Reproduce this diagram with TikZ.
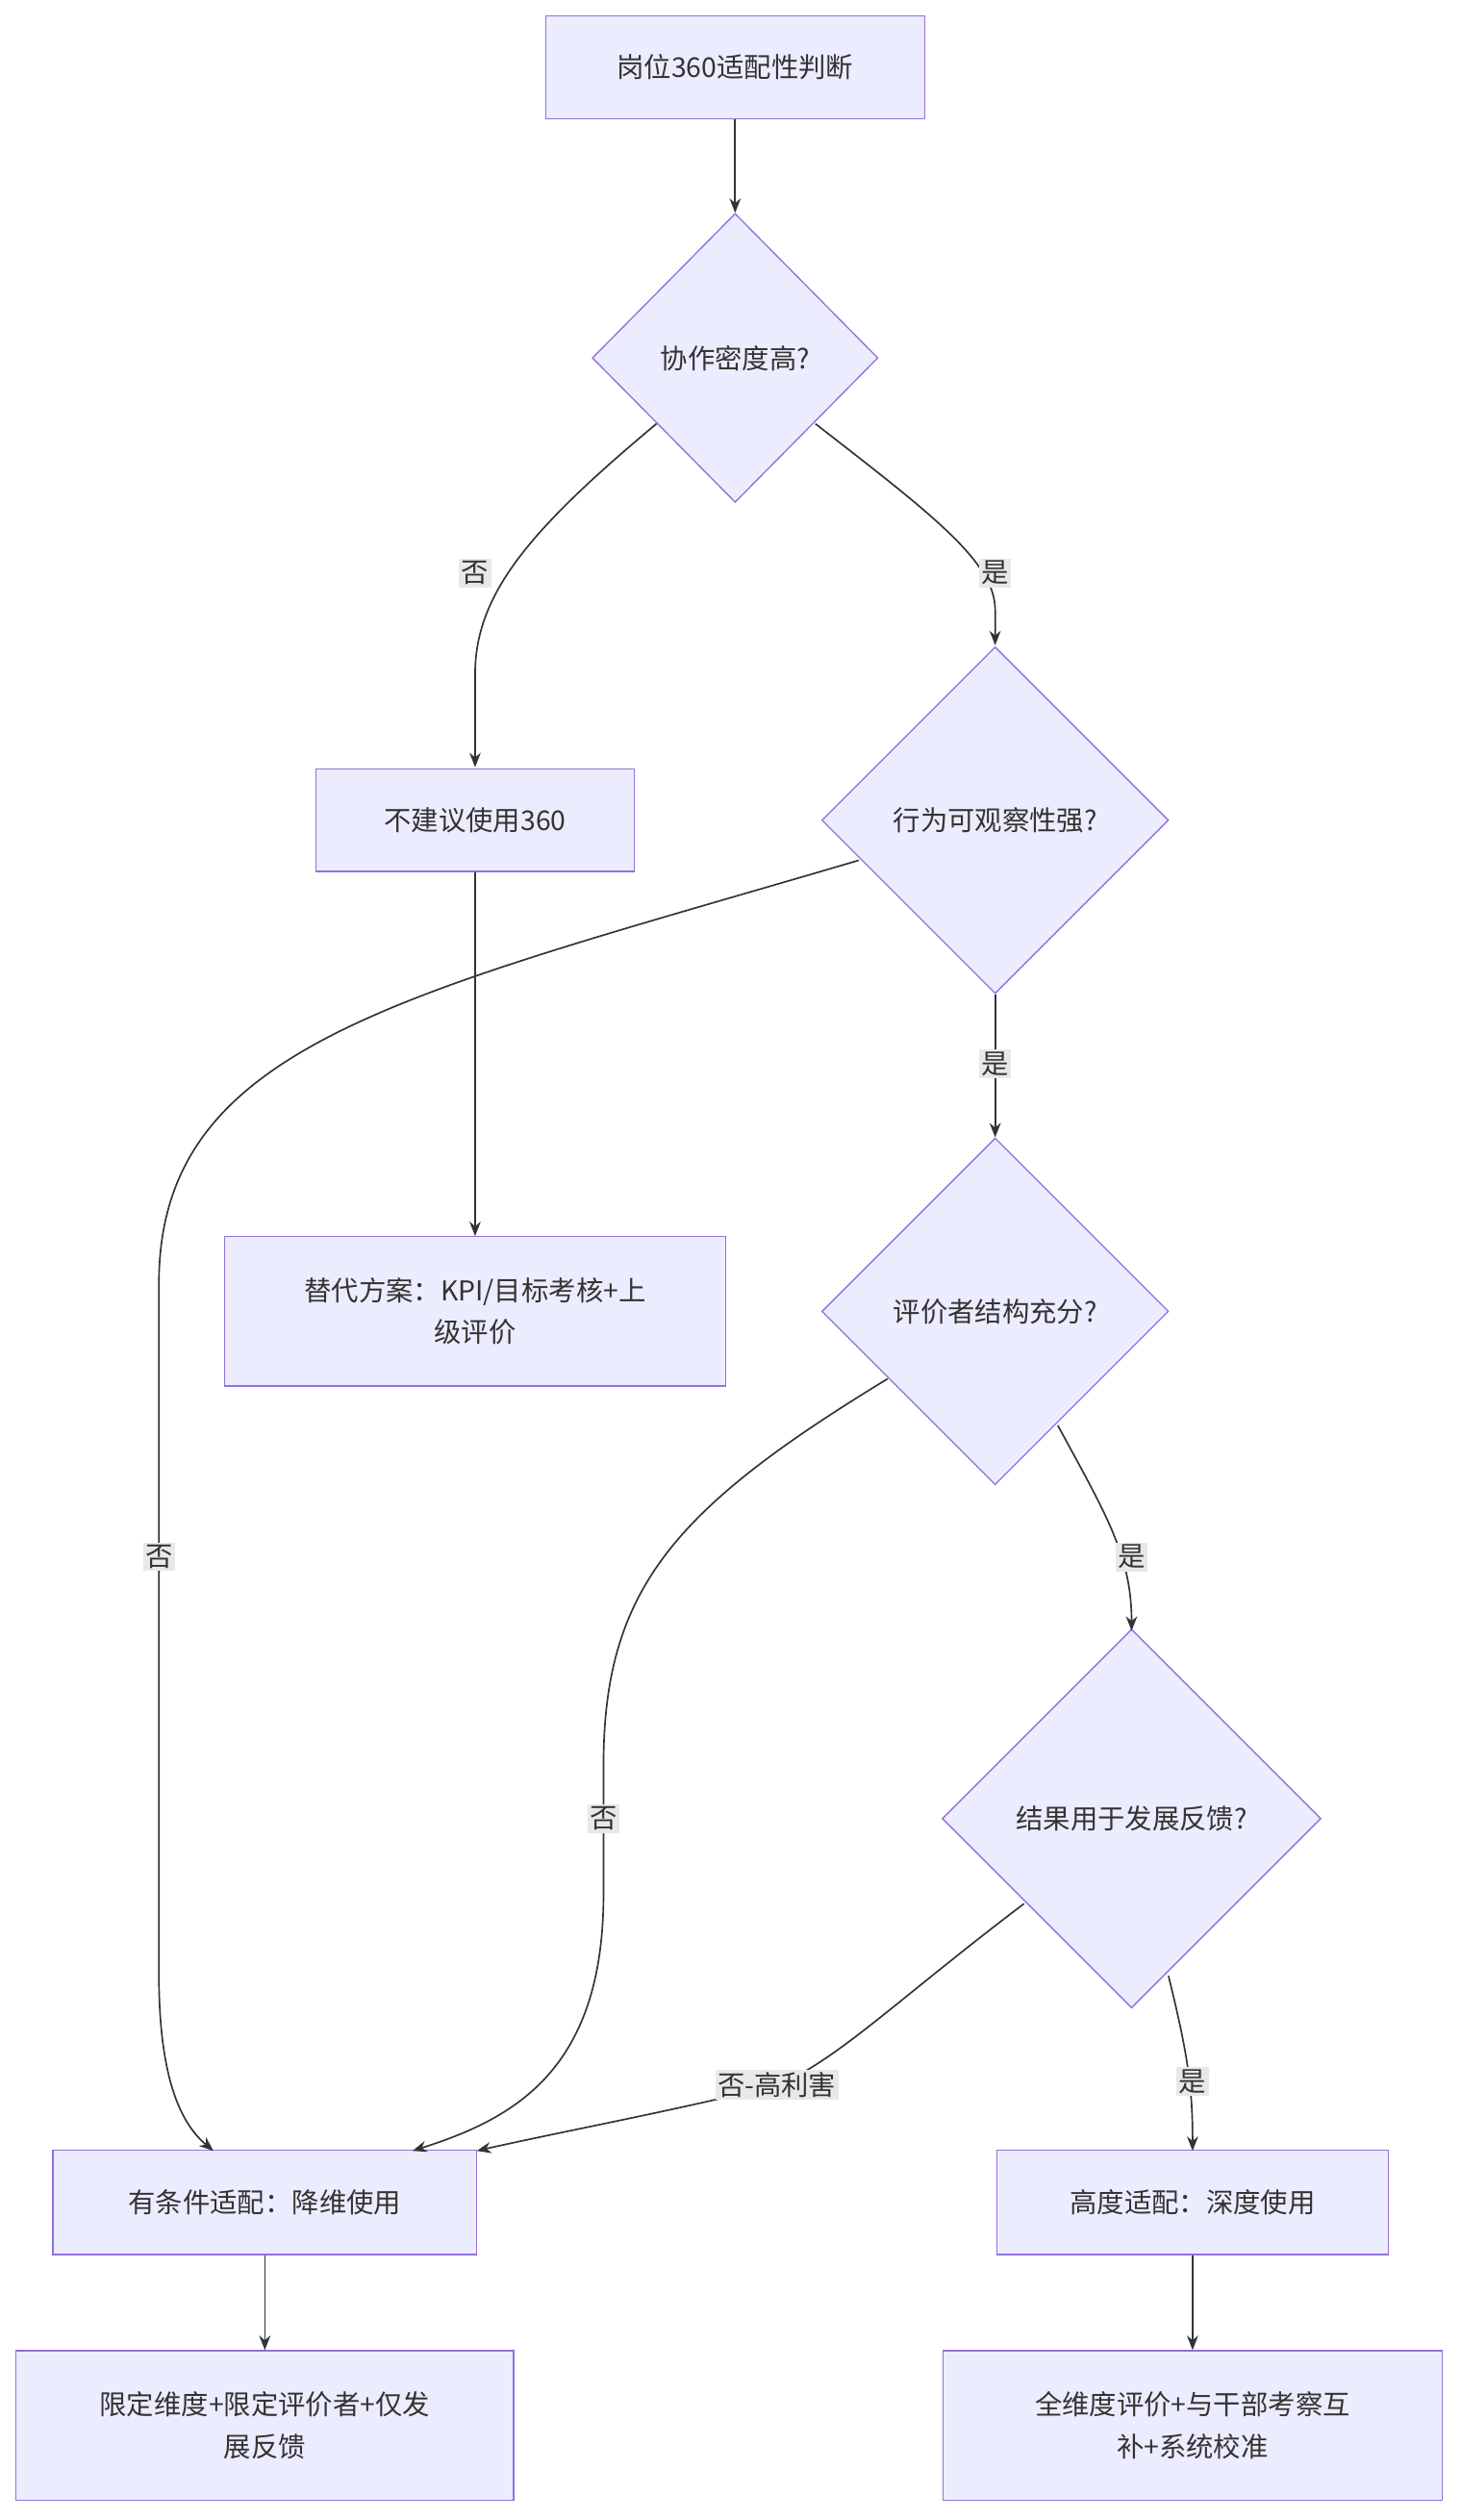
\documentclass[tikz,border=0pt]{standalone}
\usepackage{fontspec}
\setmainfont{Noto Sans CJK SC}
\usetikzlibrary{shapes.geometric,arrows.meta}
\definecolor{nfill}{HTML}{ECECFF}
\definecolor{nline}{HTML}{9370DB}
\definecolor{edge}{HTML}{333333}
\definecolor{lbl}{HTML}{E8E8E8}
\begin{document}
\begin{tikzpicture}[x=1pt,y=-1pt,
  box/.style={draw=nline,fill=nfill,line width=0.8pt,rectangle,inner sep=0,align=center,font=\fontsize{17}{26}\selectfont,text=edge},
  dia/.style={draw=nline,fill=nfill,line width=0.8pt,diamond,inner sep=0,font=\fontsize{17}{26}\selectfont,text=edge},
  ed/.style={draw=edge,line width=1pt,-{Stealth[length=9pt,width=7pt]}},
  lab/.style={fill=lbl,inner sep=1.5pt,font=\fontsize{17}{20}\selectfont,text=edge}]
\useasboundingbox (0,0) rectangle (910,1570);
\fill[white] (0,0) rectangle (910,1570);
\node[box,minimum width=236,minimum height=64] (top) at (458,42) {岗位360适配性判断};
\node[dia,minimum width=178,minimum height=180] (d1) at (458,223) {协作密度高?};
\node[box,minimum width=198,minimum height=64] (no) at (296,511) {不建议使用360};
\node[dia,minimum width=216,minimum height=216] (d2) at (620,511) {行为可观察性强?};
\node[box,minimum width=312,minimum height=93] (alt) at (296,817) {替代方案：KPI/目标考核+上\\级评价};
\node[dia,minimum width=216,minimum height=216] (d3) at (620,817) {评价者结构充分?};
\node[dia,minimum width=236,minimum height=236] (d4) at (705,1133) {结果用于发展反馈?};
\node[box,minimum width=264,minimum height=65] (cond) at (165,1372) {有条件适配：降维使用};
\node[box,minimum width=244,minimum height=65] (high) at (743,1372) {高度适配：深度使用};
\node[box,minimum width=310,minimum height=93] (lim) at (165,1511) {限定维度+限定评价者+仅发\\展反馈};
\node[box,minimum width=311,minimum height=93] (full) at (743,1511) {全维度评价+与干部考察互\\补+系统校准};
\coordinate (c1) at (296,478);
\coordinate (c2) at (620,402);
\draw[ed] (top) -- (d1);
\draw[ed] (409,264) .. controls (330,330) and (296,370) .. (296,420) -- (c1);
\node[lab] (l1) at (296,357) {否};
\draw[ed] (508,264) .. controls (580,320) and (620,350) .. (620,380) -- (c2);
\node[lab] (l2) at (620,357) {是};
\draw[ed] (535,536) .. controls (250,620) and (99,650) .. (99,800) -- (99,1230) .. controls (99,1300) and (115,1325) .. (133,1340);
\node[lab] (l3) at (99,970) {否};
\draw[ed] (no) -- (alt);
\draw[ed] (d2) -- (d3);
\node[lab] (l4) at (620,663) {是};
\draw[ed] (553,859) .. controls (420,940) and (376,990) .. (376,1100) -- (376,1180) .. controls (376,1290) and (320,1320) .. (257,1340);
\node[lab] (l5) at (376,1133) {否};
\draw[ed] (659,888) .. controls (690,945) and (705,970) .. (705,1016);
\node[lab] (l6) at (705,970) {是};
\draw[ed] (638,1186) .. controls (560,1245) and (520,1285) .. (484,1299) .. controls (420,1315) and (350,1328) .. (297,1340);
\node[lab] (l7) at (484,1299) {否-高利害};
\draw[ed] (728,1231) .. controls (740,1280) and (743,1300) .. (743,1340);
\node[lab] (l8) at (743,1297) {是};
\draw[ed] (cond) -- (lim);
\draw[ed] (high) -- (full);
\end{tikzpicture}
\end{document}
